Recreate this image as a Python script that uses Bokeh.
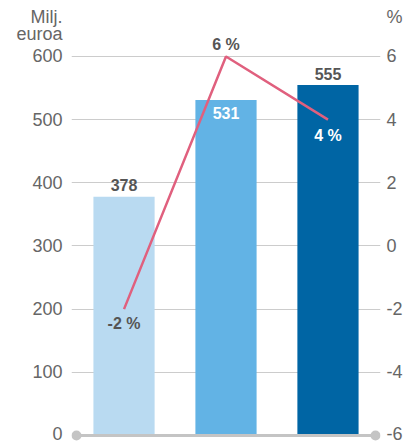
from bokeh.plotting import figure
from bokeh.models import Range1d, LinearAxis, FixedTicker, ColumnDataSource
from bokeh.embed import file_html
from bokeh.resources import INLINE
from bokeh.core.properties import value

categories = ["2017", "2018", "2019"]
revenue = [378, 531, 555]
growth = [-2, 6, 4]
bar_colors = ["#b9daf1", "#62b3e5", "#0065a4"]
left_ticks = [0, 100, 200, 300, 400, 500, 600]
right_ticks = [-6, -4, -2, 0, 2, 4, 6]
left_unit_lines = {661.7: "Milj.", 634.8: "euroa"}
right_unit_lines = {7.234: "%"}
rev_labels = [str(v) for v in revenue]
growth_labels = [f"{v} %" for v in growth]

FONT = value("Liberation Sans")
xs = list(range(len(categories)))

p = figure(frame_width=309, frame_height=443,
           x_range=Range1d(-0.515, 2.515), y_range=Range1d(-12.7, 688.6),
           output_backend="svg", toolbar_location=None,
           x_axis_location=None, y_axis_location="left",
           min_border_left=71, min_border_right=0,
           min_border_top=0, min_border_bottom=0)
p.outline_line_color = None
p.background_fill_color = "white"
p.border_fill_color = "white"

p.extra_y_ranges = {"pct": Range1d(-6.254, 7.772)}
rax = LinearAxis(y_range_name="pct",
                 ticker=FixedTicker(ticks=right_ticks + list(right_unit_lines)))
ro = {t: str(t) for t in right_ticks}
ro.update(right_unit_lines)
rax.major_label_overrides = ro
p.add_layout(rax, "right")

lax = p.yaxis[0]
lax.ticker = FixedTicker(ticks=left_ticks + list(left_unit_lines))
lax.major_label_overrides = dict(left_unit_lines)
for ax in p.yaxis:
    ax.axis_line_color = None
    ax.major_tick_line_color = None
    ax.minor_tick_line_color = None
    ax.major_tick_out = 0
    ax.major_tick_in = 0
    ax.minor_tick_out = 0
    ax.minor_tick_in = 0
    ax.major_label_text_font_size = "18px"
    ax.major_label_text_color = "#666666"
    ax.major_label_text_font = "Liberation Sans"
lax.major_label_standoff = 9
rax.major_label_standoff = 6

p.xgrid.visible = False
p.ygrid.ticker = FixedTicker(ticks=left_ticks[1:])
p.ygrid.grid_line_color = "#cccccc"
p.ygrid.grid_line_width = 1

src = ColumnDataSource(dict(x=xs, rev=revenue, color=bar_colors, lab=rev_labels,
                            g=growth, glab=growth_labels))

p.vbar(x="x", top="rev", bottom=0, width=0.6, fill_color="color", line_color=None, source=src)

p.segment(x0=[-0.466], y0=[0], x1=[2.466], y1=[0], line_color="#c4c4c4", line_width=3)
p.scatter(x=[-0.466, 2.466], y=[0, 0], size=10, fill_color="#c4c4c4", line_color=None)

p.line(x="x", y="g", y_range_name="pct", line_color="#e0607e", line_width=2.5, source=src)

lab_cols = ["#555555", "white", "#555555"]
lab_off = [-12, 13, -11]
for i in xs:
    p.text(x=[xs[i]], y=[revenue[i]], text=[rev_labels[i]], text_font=FONT,
           text_font_size="16px", text_font_style="bold", text_color=lab_cols[i],
           text_align="center", text_baseline="middle", y_offset=lab_off[i])

g_cols = ["#555555", "#555555", "white"]
g_off = [14, -12, 16]
for i in xs:
    p.text(x=[xs[i]], y=[growth[i]], text=[growth_labels[i]], y_range_name="pct",
           text_font=FONT, text_font_size="16px", text_font_style="bold",
           text_color=g_cols[i], text_align="center", text_baseline="middle",
           y_offset=g_off[i])

open("out.html", "w").write(file_html(p, INLINE))
